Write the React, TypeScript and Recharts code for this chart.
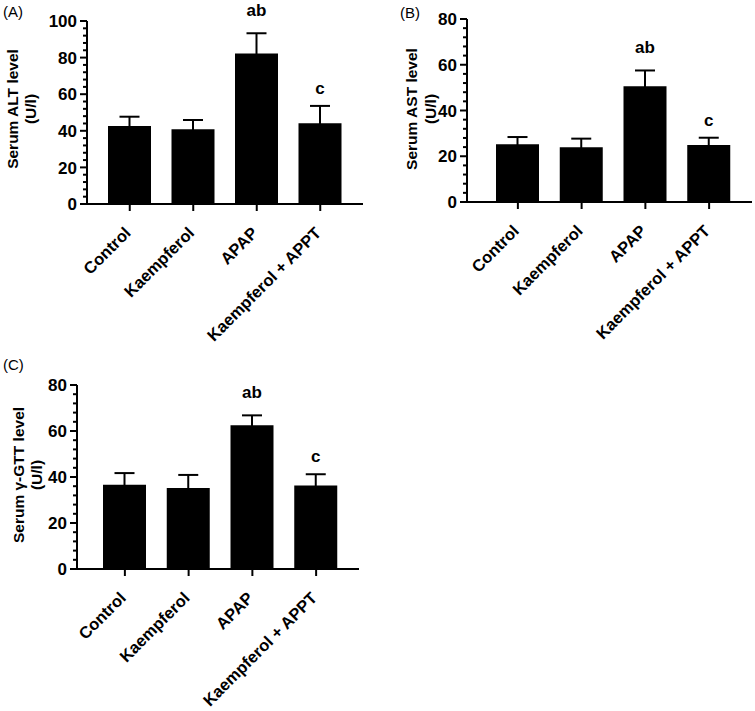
import React from "react";
import { BarChart, Bar, XAxis, YAxis, ErrorBar, LabelList } from "recharts";

const categories = ["Control", "Kaempferol", "APAP", "Kaempferol + APPT"];
const significance = ["", "", "ab", "c"];

const altMean = [42.6, 40.8, 82.3, 44.1];
const altErr = [5.1, 5.1, 11.0, 9.5];

const astMean = [25.3, 23.9, 50.6, 24.9];
const astErr = [3.1, 3.8, 6.9, 3.2];

const ggtMean = [36.6, 35.2, 62.5, 36.3];
const ggtErr = [5.1, 5.7, 4.3, 4.9];

const ticks100 = Array.from({ length: 26 }, (_, i) => i * 4);
const ticks80 = Array.from({ length: 21 }, (_, i) => i * 4);

const FONT = "'Liberation Sans', Arial, Helvetica, sans-serif";

function YTick(props: any) {
  const { x, y, payload } = props;
  const v = payload.value;
  const major = v % 20 === 0;
  return (
    <g>
      <line x1={x - (major ? 7 : 4)} x2={x} y1={y} y2={y} stroke="#000" strokeWidth={2} />
      {major && (
        <text x={x - 10} y={y} dy="0.36em" textAnchor="end" fontSize={17} fontWeight="bold" fontFamily={FONT} fill="#000">
          {v}
        </text>
      )}
    </g>
  );
}

function XTick(props: any) {
  const { x, y, payload } = props;
  const px = x + 2;
  const py = y + 21;
  return (
    <text
      x={px}
      y={py}
      textAnchor="end"
      transform={`rotate(-45, ${px}, ${py})`}
      fontSize={16.5}
      fontWeight="bold"
      fontFamily={FONT}
      fill="#000"
    >
      {payload.value}
    </text>
  );
}

type PanelProps = {
  left: number;
  top: number;
  width: number;
  height: number;
  margin: { top: number; right: number; bottom: number; left: number };
  yMax: number;
  ticks: number[];
  mean: number[];
  err: number[];
  yLabel: string;
  letter: string;
  letterX: number;
  letterY: number;
  labelX1: number;
  labelX2: number;
  labelCY: number;
  padLeft: number;
  padRight: number;
};

function Panel(p: PanelProps) {
  const data = categories.map((c, i) => ({
    name: c,
    value: p.mean[i],
    errRange: [p.mean[i], p.err[i]],
    sig: significance[i],
  }));

  const labelContent = () => (
    <g>
      <text x={p.letterX} y={p.letterY} fontSize={15} fontFamily={FONT} fill="#000">
        {p.letter}
      </text>
      <text
        x={p.labelX1}
        y={p.labelCY}
        dy="0.36em"
        textAnchor="middle"
        transform={`rotate(-90, ${p.labelX1}, ${p.labelCY})`}
        fontSize={15.5}
        fontWeight="bold"
        fontFamily={FONT}
        fill="#000"
      >
        {p.yLabel}
      </text>
      <text
        x={p.labelX2}
        y={p.labelCY}
        dy="0.36em"
        textAnchor="middle"
        transform={`rotate(-90, ${p.labelX2}, ${p.labelCY})`}
        fontSize={15.5}
        fontWeight="bold"
        fontFamily={FONT}
        fill="#000"
      >
        (U/l)
      </text>
    </g>
  );

  const sigContent = (props: any) => {
    const { x, y, width, height, index, value } = props;
    if (!value) return null;
    const m = p.mean[index];
    const errTop = y - (p.err[index] * height) / m;
    const gap = String(value).length > 1 ? 17 : 12;
    return (
      <text
        x={x + width / 2}
        y={errTop - gap}
        textAnchor="middle"
        fontSize={17}
        fontWeight="bold"
        fontFamily={FONT}
        fill="#000"
      >
        {value}
      </text>
    );
  };

  return (
    <div style={{ position: "absolute", left: p.left, top: p.top, width: p.width, height: p.height }}>
      <BarChart width={p.width} height={p.height} data={data} margin={p.margin}>
        <XAxis
          dataKey="name"
          height={60}
          padding={{ left: p.padLeft, right: p.padRight }}
          axisLine={{ stroke: "#000", strokeWidth: 2 }}
          tickLine={{ stroke: "#000", strokeWidth: 2 }}
          tickSize={7}
          tickMargin={2}
          tick={<XTick />}
          interval={0}
        />
        <YAxis
          width={40}
          domain={[0, p.yMax]}
          ticks={p.ticks}
          interval={0}
          tickLine={false}
          tickSize={0}
          tickMargin={0}
          axisLine={{ stroke: "#000", strokeWidth: 2 }}
          tick={<YTick />}
          label={{ content: labelContent } as any}
        />
        <Bar dataKey="value" fill="#000" barSize={43} isAnimationActive={false}>
          <ErrorBar dataKey="errRange" width={10} stroke="#000" strokeWidth={2} direction="y" isAnimationActive={false} />
          <LabelList dataKey="sig" content={sigContent} />
        </Bar>
      </BarChart>
    </div>
  );
}

export default function App() {
  return (
    <div style={{ position: "absolute", left: 0, top: 0, width: 755, height: 711, background: "#fff" }}>
      <Panel
        left={0}
        top={0}
        width={370}
        height={360}
        margin={{ top: 21, right: 7, bottom: 96, left: 47 }}
        yMax={100}
        ticks={ticks100}
        mean={altMean}
        err={altErr}
        yLabel="Serum ALT level"
        letter="(A)"
        letterX={3}
        letterY={17}
        labelX1={12}
        labelX2={30}
        labelCY={109}
        padLeft={11}
        padRight={11}
      />
      <Panel
        left={380}
        top={0}
        width={375}
        height={360}
        margin={{ top: 19, right: 3, bottom: 98, left: 47 }}
        yMax={80}
        ticks={ticks80}
        mean={astMean}
        err={astErr}
        yLabel="Serum AST level"
        letter="(B)"
        letterX={20}
        letterY={18}
        labelX1={31}
        labelX2={50}
        labelCY={109}
        padLeft={19}
        padRight={11}
      />
      <Panel
        left={0}
        top={350}
        width={370}
        height={361}
        margin={{ top: 35, right: 11, bottom: 82, left: 37 }}
        yMax={80}
        ticks={ticks80}
        mean={ggtMean}
        err={ggtErr}
        yLabel="Serum γ-GTT level"
        letter="(C)"
        letterX={3}
        letterY={20}
        labelX1={18}
        labelX2={36}
        labelCY={125}
        padLeft={16}
        padRight={11}
      />
    </div>
  );
}
